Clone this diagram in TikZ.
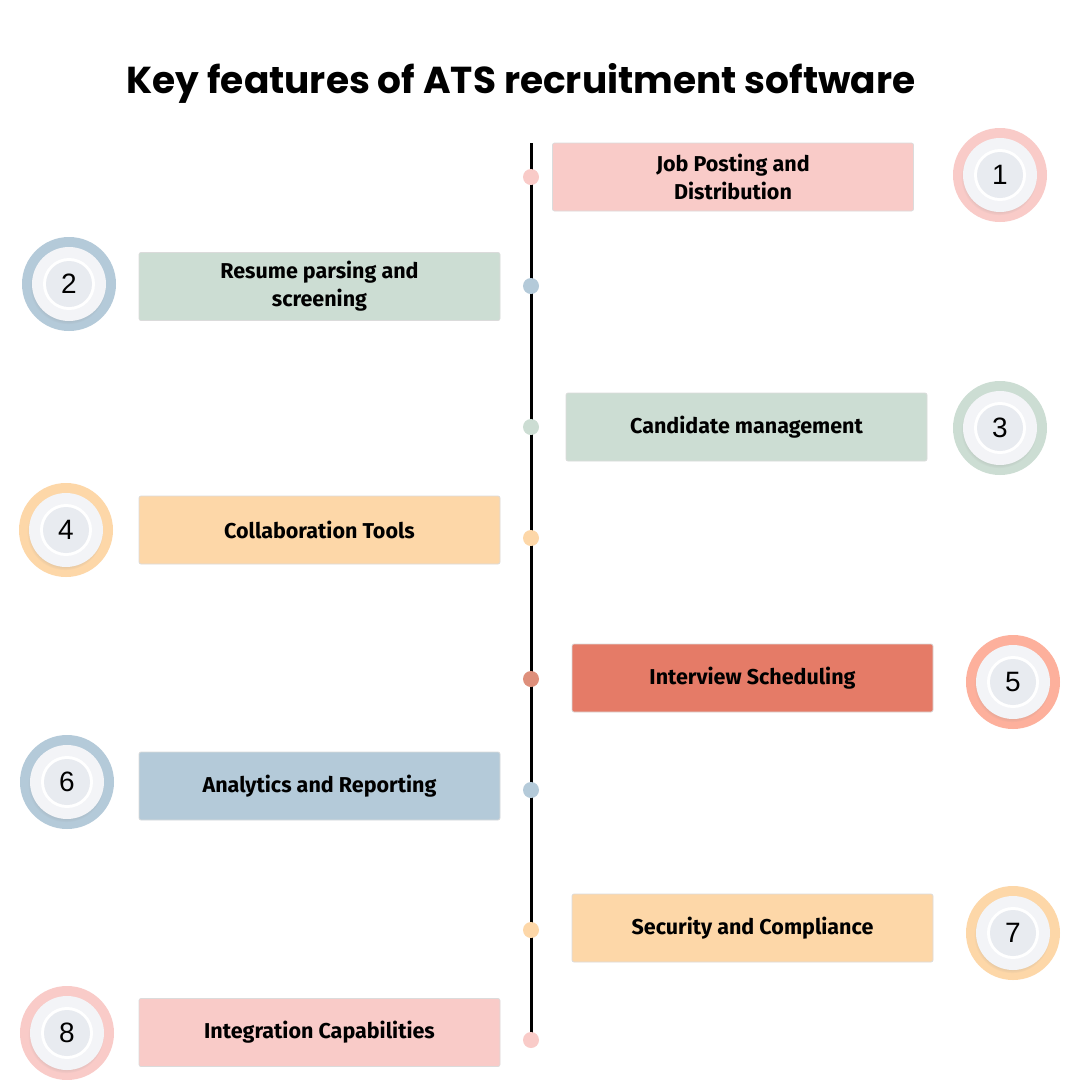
\documentclass[tikz,border=0pt]{standalone}
\usepackage{fontspec}
\setmainfont{Fira Sans}
\newfontfamily\titlefont{Poppins}
\newfontfamily\numfont{Liberation Sans}
\usetikzlibrary{shadows}
\definecolor{pinkF}{HTML}{F9CBC8}
\definecolor{greenF}{HTML}{CCDDD3}
\definecolor{orangeF}{HTML}{FDD7A8}
\definecolor{salmonF}{HTML}{E57B67}
\definecolor{blueF}{HTML}{B4CAD9}
\definecolor{salmonDot}{HTML}{DE8F7B}
\definecolor{salmonRing}{HTML}{FDB09C}
\definecolor{plateC}{HTML}{F3F4F7}
\definecolor{discC}{HTML}{E8EBF0}
\tikzset{
  featbox/.style={draw=black!14, line width=0.7pt, rounded corners=2pt,
    minimum width=361, minimum height=68, inner sep=0pt, align=center,
    font=\fontsize{21.5}{28}\selectfont\bfseries},
  tdot/.style={circle, inner sep=0pt, minimum size=16},
  ring/.style={circle, inner sep=0pt, minimum size=94},
  plate/.style={circle, inner sep=0pt, minimum size=74, fill=plateC,
    circular drop shadow={shadow xshift=-1pt, shadow yshift=-2pt, opacity=0.25, shadow scale=1.03}},
  disc/.style={circle, inner sep=0pt, minimum size=46, fill=discC,
    font=\numfont\fontsize{28}{28}\selectfont},
}
\newcommand{\numcirc}[5]{%
  \node[ring, fill=#4] (r#1) at (#2,#3) {};
  \node[plate] (p#1) at (r#1) {};
  \node[circle, inner sep=0pt, minimum size=52, fill=white] (w#1) at (r#1) {};
  \node[disc] (c#1) at (r#1) {#5};
}
\begin{document}
\begin{tikzpicture}[x=1pt, y=-1pt]
\useasboundingbox (0,0) rectangle (1080,1080);
\fill[white] (0,0) rectangle (1080,1080);
\node[font=\titlefont\bfseries\fontsize{37.5}{40}\selectfont] (title) at (521,83) {Key features of ATS recruitment software};

\coordinate (ltop) at (531,143);
\coordinate (lbot) at (531,1040);
\draw[line width=3pt, black] (ltop) -- (lbot);

\node[tdot, fill=pinkF] (d1) at (531,177) {};
\node[tdot, fill=blueF] (d2) at (531,286) {};
\node[tdot, fill=greenF] (d3) at (531,427) {};
\node[tdot, fill=orangeF] (d4) at (531,538) {};
\node[tdot, fill=salmonDot] (d5) at (531,679) {};
\node[tdot, fill=blueF] (d6) at (531,790) {};
\node[tdot, fill=orangeF] (d7) at (531,930) {};
\node[tdot, fill=pinkF] (d8) at (531,1040) {};

\node[featbox, fill=pinkF] (b1) at (733,177) {Job Posting and\\Distribution};
\node[featbox, fill=greenF] (b2) at (319.5,286.5) {Resume parsing and\\screening};
\node[featbox, fill=greenF] (b3) at (746.5,427) {Candidate management};
\node[featbox, fill=orangeF] (b4) at (319.5,530) {Collaboration Tools};
\node[featbox, fill=salmonF] (b5) at (752.5,678) {Interview Scheduling};
\node[featbox, fill=blueF] (b6) at (319.5,786) {Analytics and Reporting};
\node[featbox, fill=orangeF] (b7) at (752.5,928) {Security and Compliance};
\node[featbox, fill=pinkF] (b8) at (319.5,1032.5) {Integration Capabilities};

\numcirc{1}{1000}{175}{pinkF}{1}
\numcirc{2}{69}{284}{blueF}{2}
\numcirc{3}{1000}{428}{greenF}{3}
\numcirc{4}{66}{530}{orangeF}{4}
\numcirc{5}{1013}{682}{salmonRing}{5}
\numcirc{6}{67}{782}{blueF}{6}
\numcirc{7}{1013}{933}{orangeF}{7}
\numcirc{8}{67}{1033}{pinkF}{8}
\end{tikzpicture}
\end{document}
